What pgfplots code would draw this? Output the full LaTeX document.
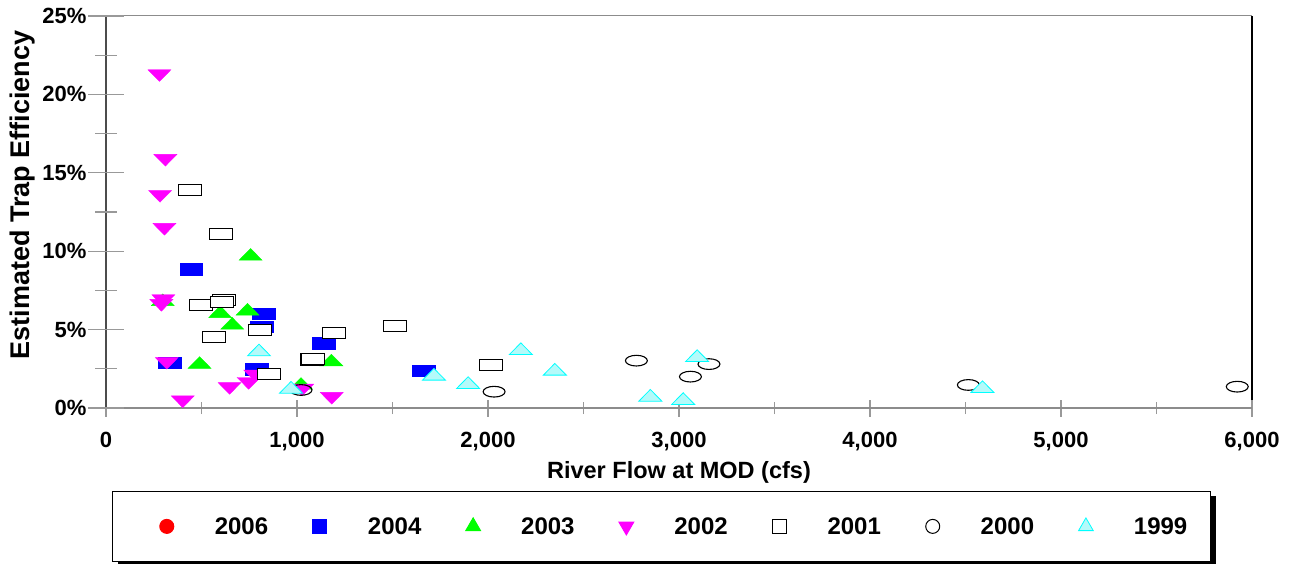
\documentclass[border=0pt]{standalone}
\usepackage{fontspec}
\setmainfont{Liberation Sans}
\usepackage{pgfplots}
\pgfplotsset{compat=1.18}
\usetikzlibrary{shadows}
\definecolor{lcyan}{RGB}{180,250,250}
\definecolor{cR}{RGB}{255,0,0}
\definecolor{cB}{RGB}{0,0,255}
\definecolor{cG}{RGB}{0,255,0}
\definecolor{cM}{RGB}{255,0,255}
\definecolor{cC}{RGB}{0,255,255}
\newcommand{\tf}{\bfseries\fontsize{22}{26}\selectfont}

\pgfplotstableread{
x y
446 8.85
826 6.0
813 5.2
336 2.9
790 2.47
1140 4.13
1661 2.36
}\dataA
\pgfplotstableread{
x y
757 9.8
297 6.9
598 6.14
741 6.3
661 5.4
490 2.9
1180 3.06
1021 1.57
}\dataB
\pgfplotstableread{
x y
280 21.2
311 15.8
283 13.5
306 11.4
300 6.85
290 6.55
318 2.85
402 0.4
647 1.25
747 1.57
782 2.04
1027 1.15
1182 0.62
}\dataC
\pgfplotstableread{
x y
439 13.9
602 11.1
497 6.57
620 6.89
609 6.76
567 4.55
808 4.97
1193 4.8
1080 3.09
1084 3.12
853 2.17
1511 5.25
2015 2.74
}\dataD
\pgfplotstableread{
x y
1021 1.15
2032 1.04
2777 3.02
3060 2.0
3157 2.8
4515 1.47
5923 1.36
}\dataE
\pgfplotstableread{
x y
801 3.7
969 1.32
1717 2.15
1896 1.62
2172 3.78
2350 2.47
2850 0.81
3022 0.6
3095 3.34
4589 1.36
}\dataF

\begin{document}
\begin{tikzpicture}[x=1pt,y=1pt]
\useasboundingbox (0,0) rectangle (1295,563);
% main axis: data, x ticks, legend
\begin{axis}[
  at={(106pt,155pt)}, anchor=south west,
  scale only axis, width=1146pt, height=392pt,
  xmin=0, xmax=6000, ymin=0, ymax=25,
  clip=false,
  axis line style={draw=none},
  xtick={0,1000,...,6000},
  xticklabels={0,{1,000},{2,000},{3,000},{4,000},{5,000},{6,000}},
  minor xtick={500,1500,...,5500},
  ytick=\empty,
  xtick pos=bottom,
  tick align=center,
  major tick length=17pt, minor tick length=12pt,
  tick style={black!40, line width=1.2pt},
  xticklabel style={font=\tf, yshift=-12pt},
  xlabel={River Flow at MOD (cfs)},
  every axis x label/.style={at={(rel axis cs:0.5,0)}, anchor=center, yshift=-64pt, font=\bfseries\fontsize{23.5}{26}\selectfont},
  legend columns=7,
  legend image code/.code={
    \pgfpathrectangle{\pgfpoint{-22pt}{-1pt}}{\pgfpoint{39pt}{2pt}}\pgfusepath{use as bounding box}
    \path plot[only marks] coordinates {(8.5pt,0pt)};},
  legend style={at={(0.485,-0.302)}, anchor=center, draw=black, line width=1pt,
    font=\bfseries\fontsize{24}{26}\selectfont, inner xsep=23.5pt, inner ysep=26pt,
    nodes={inner sep=0pt},
    /tikz/every odd column/.append style={column sep=39.5pt},
    /tikz/every even column/.append style={column sep=21.3pt},
    drop shadow={shadow xshift=5pt, shadow yshift=-5pt, opacity=1, fill=black}},
]
\draw[black!45, line width=1pt] (rel axis cs:0,1) -- (rel axis cs:1,1);
\draw[black!45, line width=2pt] (rel axis cs:0,0) -- (rel axis cs:1,0);
\draw[black!70, line width=2pt] (rel axis cs:0,0) -- (rel axis cs:0,1);
\draw[black, line width=2pt] (rel axis cs:1,0.02) -- (rel axis cs:1,1);

\addplot[forget plot, only marks, mark=square*, color=cB, mark size=5.6pt, mark options={xscale=2.05}] table {\dataA};
\addplot[forget plot, only marks, mark=triangle*, color=cG, mark size=7.8pt, mark options={yshift=-1.95pt, xscale=1.7}] table {\dataB};
\addplot[forget plot, only marks, mark=triangle*, color=cM, mark size=7.8pt, mark options={yshift=1.95pt, rotate=180, xscale=1.7}] table {\dataC};
\addplot[forget plot, only marks, mark=square*, mark size=5.6pt, mark options={xscale=2.05, draw=black, fill=white, line width=1.1pt}] table {\dataD};
\addplot[forget plot, only marks, mark=o, mark size=5.35pt, mark options={xscale=2.05, draw=black, line width=1.1pt}] table {\dataE};
\addplot[forget plot, only marks, mark=triangle*, mark size=7.8pt, mark options={yshift=-1.95pt, xscale=1.7, draw=cC, fill=lcyan, line width=0.8pt}] table {\dataF};

\addlegendimage{only marks, mark=*, mark size=7pt, color=cR}
\addlegendentry{2006}
\addlegendimage{only marks, mark=square*, mark size=7pt, color=cB}
\addlegendentry{2004}
\addlegendimage{only marks, mark=triangle*, mark size=8.5pt, color=cG}
\addlegendentry{2003}
\addlegendimage{only marks, mark=triangle*, mark size=8.5pt, color=cM, mark options={rotate=180}}
\addlegendentry{2002}
\addlegendimage{only marks, mark=square*, mark size=7pt, mark options={draw=black, fill=white, line width=1pt}}
\addlegendentry{2001}
\addlegendimage{only marks, mark=o, mark size=7pt, mark options={draw=black, line width=1pt}}
\addlegendentry{2000}
\addlegendimage{only marks, mark=triangle*, mark size=8.5pt, mark options={draw=cC, fill=lcyan, line width=0.8pt}}
\addlegendentry{1999}
\end{axis}
% overlay axis: y ticks and label
\begin{axis}[
  at={(106pt,155pt)}, anchor=south west,
  scale only axis, width=1146pt, height=392pt,
  xmin=0, xmax=6000, ymin=0, ymax=25,
  axis line style={draw=none},
  xtick=\empty,
  ytick={0,5,...,25},
  yticklabels={0\%,5\%,10\%,15\%,20\%,25\%},
  minor ytick={2.5,7.5,...,22.5},
  ytick pos=left,
  tick align=center,
  major tick length=36pt, minor tick length=22pt,
  tick style={black!40, line width=1.2pt},
  yticklabel style={font=\tf, xshift=2pt},
  ylabel={Estimated Trap Efficiency},
  every axis y label/.style={at={(rel axis cs:0,0.543)}, xshift=-83pt, rotate=90, anchor=center, font=\bfseries\fontsize{27}{29}\selectfont},
]
\end{axis}
\end{tikzpicture}
\end{document}
